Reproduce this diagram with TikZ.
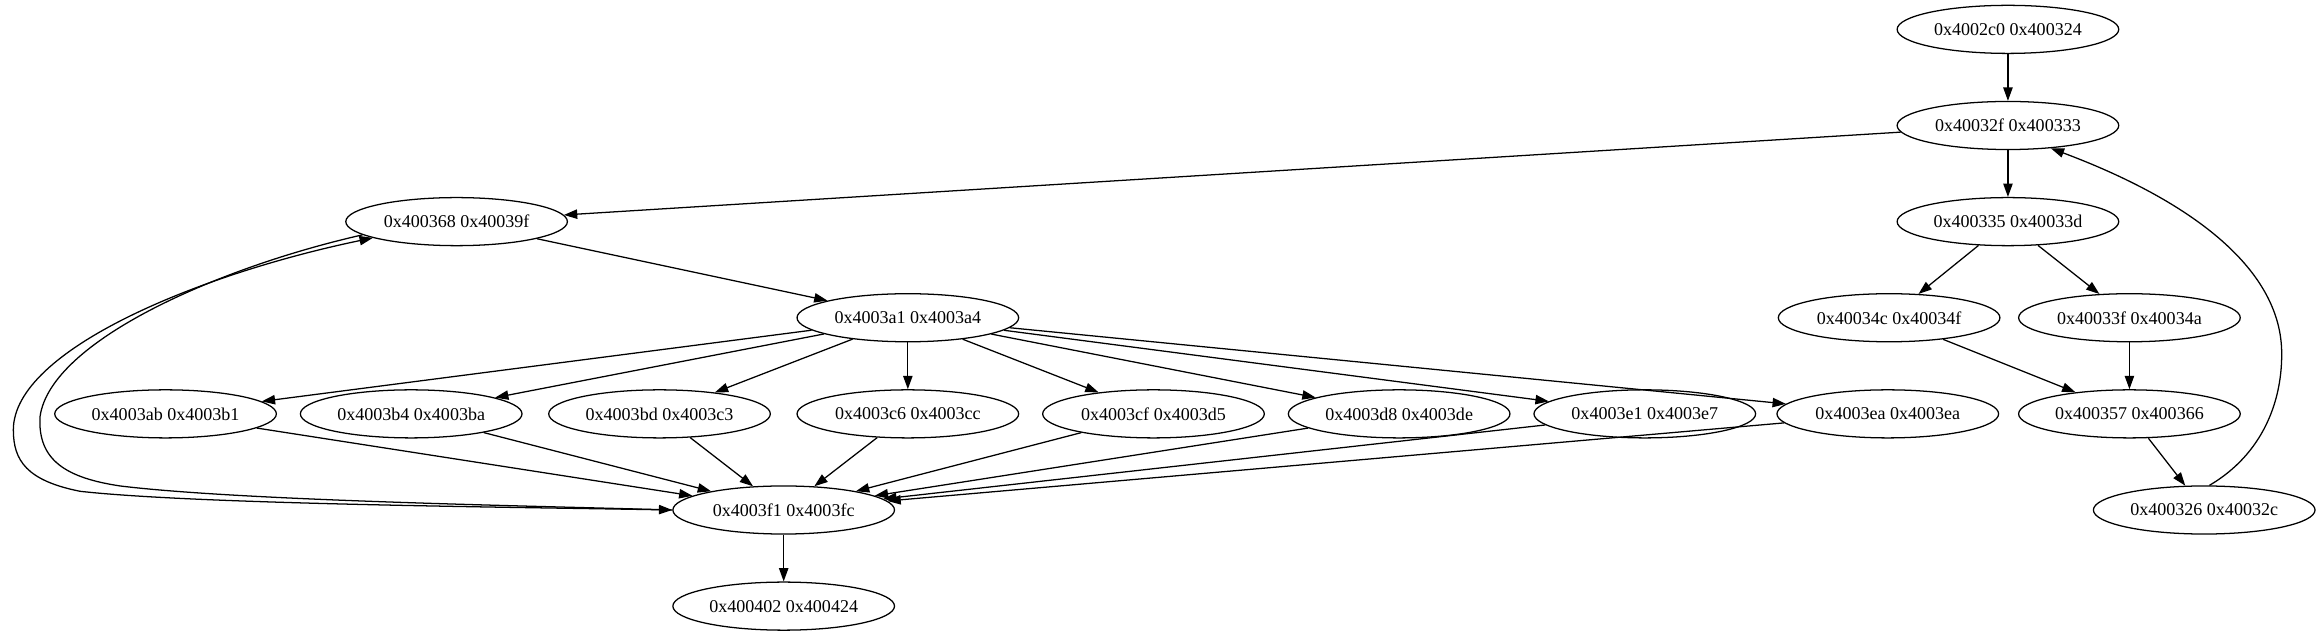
\documentclass[tikz,border=0pt]{standalone}
\usepackage{fontspec}
\setmainfont{Liberation Serif}
\usetikzlibrary{arrows.meta,shapes.geometric}

\begin{document}
\begin{tikzpicture}[x=1pt,y=-1pt,>={Triangle[length=10pt,width=7pt]},line width=0.95pt,
  blk/.style={draw,ellipse,minimum width=166pt,minimum height=36pt,inner sep=0pt,
    font=\fontsize{13.5}{16}\selectfont}]

  \useasboundingbox (0,0) rectangle (1737,476);

  % right branch
  \node[blk] (a2c0) at (1504,22) {0x4002c0 0x400324};
  \node[blk] (a32f) at (1504,94) {0x40032f 0x400333};
  \node[blk] (a335) at (1504,166) {0x400335 0x40033d};
  \node[blk] (a34c) at (1415,238) {0x40034c 0x40034f};
  \node[blk] (a33f) at (1595,238) {0x40033f 0x40034a};
  \node[blk] (a357) at (1595,310) {0x400357 0x400366};
  \node[blk] (a326) at (1651,382) {0x400326 0x40032c};

  % left branch
  \node[blk] (a368) at (342,166) {0x400368 0x40039f};
  \node[blk] (a3a1) at (680,238) {0x4003a1 0x4003a4};
  \node[blk] (a3ab) at (124,310) {0x4003ab 0x4003b1};
  \node[blk] (a3b4) at (308,310) {0x4003b4 0x4003ba};
  \node[blk] (a3bd) at (494,310) {0x4003bd 0x4003c3};
  \node[blk] (a3c6) at (680,310) {0x4003c6 0x4003cc};
  \node[blk] (a3cf) at (864,310) {0x4003cf 0x4003d5};
  \node[blk] (a3d8) at (1048,310) {0x4003d8 0x4003de};
  \node[blk] (a3e1) at (1232,310) {0x4003e1 0x4003e7};
  \node[blk] (a3ea) at (1414,310) {0x4003ea 0x4003ea};
  \node[blk] (a3f1) at (587,382) {0x4003f1 0x4003fc};
  \node[blk] (a402) at (587,454) {0x400402 0x400424};

  % edges of the right branch
  \draw[->] (a2c0) -- (a32f);
  \draw[->] (a32f) -- (a335);
  \draw[->] (a32f) -- (a368);
  \draw[->] (a335) -- (a34c);
  \draw[->] (a335) -- (a33f);
  \draw[->] (a34c) -- (a357);
  \draw[->] (a33f) -- (a357);
  \draw[->] (a357) -- (a326);
  \draw[->] (a326.78) .. controls (1695,340) and (1710,300) .. (1709,262)
    .. controls (1707,200) and (1640,150) .. (a32f.-28);

  % edges of the left branch
  \draw[->] (a368) -- (a3a1);
  \foreach \n in {a3ab,a3b4,a3bd,a3c6,a3cf,a3d8,a3e1,a3ea} {
    \draw[->] (a3a1) -- (\n);
    \draw[->] (\n) -- (a3f1);
  }
  \draw[->] (a3f1) -- (a402);

  % loop back between 0x400368 and 0x4003f1
  \draw[->] (a3f1.west) .. controls (400,380) and (150,378) .. (60,368)
    .. controls (20,360) and (10,345) .. (10,322)
    .. controls (10,262) and (150,205) .. (a368.191);
  \draw[->] (a368.188) .. controls (165,200) and (38,255) .. (30,312)
    .. controls (28,345) and (50,358) .. (90,364)
    .. controls (180,375) and (400,379) .. (a3f1.west);
\end{tikzpicture}
\end{document}
